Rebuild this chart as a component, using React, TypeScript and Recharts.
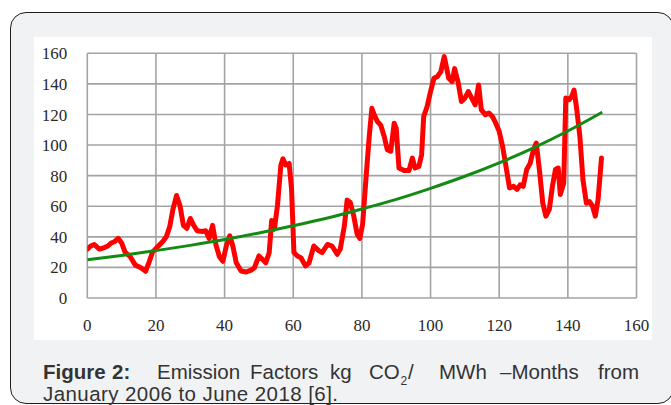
import React from "react";
import { LineChart, Line, XAxis, YAxis, CartesianGrid } from "recharts";

const redMonths = [
  0, 1, 2, 3.5, 5, 6, 7, 8, 9, 10, 11, 12.5, 14, 15.5, 17, 18, 19, 20.5, 22, 23,
  24, 25, 26, 27, 28, 29, 30, 31, 32, 33.5, 34.5, 35.5, 36.5, 37.5, 38.5, 39.5,
  40.5, 41.5, 42.4, 43.4, 44.8, 46.3, 47.7, 48.7, 50, 51, 52, 53, 53.7, 54.5,
  55.4, 56.4, 57, 57.8, 58.8, 59.5, 60.2, 61.2, 62.2, 63.6, 64.6, 66, 67.5, 68.4,
  70, 71.3, 72.8, 73.7, 74.9, 75.7, 76.6, 77.6, 78.6, 79.4, 80.2, 81.2, 82.1,
  82.9, 83.6, 84.5, 85.5, 86.5, 87.4, 88.4, 89.4, 90, 90.8, 92.3, 93.7, 94.7,
  95.5, 96.6, 97.4, 98, 99, 100, 101, 102, 103, 104, 104.5, 105.3, 106.3, 107,
  108, 109, 110, 111, 112, 113, 114, 114.8, 116, 117, 118, 119, 120, 121, 122.3,
  123, 124.2, 125.2, 126.1, 127, 128, 129, 130, 130.8, 131.7, 132.7, 133.6,
  134.6, 135.5, 136.4, 137.2, 137.8, 138.8, 139.4, 140.4, 141.1, 141.8, 142.5,
  143.5, 144.4, 145.4, 146.3, 147.2, 148, 148.8, 149.8,
];
const redValues = [
  32, 34, 35, 32, 33, 34, 36, 37, 39, 36, 30, 27, 21.5, 20, 17.5, 23.5, 30, 33.5,
  37, 40, 46.5, 58.5, 67, 60.5, 47.5, 45.5, 52, 47.5, 44, 43.5, 44, 39, 47.5,
  34.5, 27, 24, 34, 40.7, 34, 23, 17.6, 17, 18.2, 19.8, 27.5, 25.3, 23, 29.7,
  50.6, 45, 60.5, 87, 91, 87, 88, 71.5, 29.7, 27.5, 26.4, 21, 23, 34, 30.8, 29.7,
  35, 34, 28.6, 32, 47.3, 64, 62.6, 53.9, 41.8, 39, 48, 78.5, 104.6, 124, 119.8,
  115.4, 113, 105.6, 97, 96, 114.3, 111, 85, 83.3, 83.3, 91.5, 85, 86, 93.7,
  118.7, 125.2, 135, 143.7, 144.8, 148, 157.8, 152.4, 143.7, 141.5, 150, 141.5,
  128.5, 130.7, 135, 130.7, 126.3, 139.3, 123, 119.8, 121, 118.7, 114.3, 109, 99,
  81.7, 72, 73, 71, 74, 73, 84, 88, 97, 101.3, 84, 62, 53.5, 58, 73, 84, 85, 67.6,
  75.2, 130.7, 129.6, 131.7, 136, 125, 105.7, 77.4, 62, 63, 60, 53.5, 64.3, 91.5,
];

const trendMonths = [0, 10, 20, 30, 40, 50, 60, 70, 80, 90, 100, 110, 120, 130, 140, 150];
const trendValues = [25, 27.8, 31, 34.4, 38.2, 42.5, 47.2, 52.3, 58.2, 64.5, 71.7, 79.6, 88.4, 98.2, 109.2, 121.5];

const xTicks = [0, 20, 40, 60, 80, 100, 120, 140, 160];
const yTicks = [0, 20, 40, 60, 80, 100, 120, 140, 160];

const redData = redMonths.map((m, i) => ({ month: m, value: redValues[i] }));
const trendData = trendMonths.map((m, i) => ({ month: m, value: trendValues[i] }));

const capFont = "'Liberation Sans', Arial, sans-serif";
const tickFont = "'Liberation Serif', 'Times New Roman', serif";

export default function App() {
  return (
    <div
      style={{
        position: "fixed",
        left: 0,
        top: 0,
        width: 671,
        height: 405,
        background: "#ffffff",
        overflow: "hidden",
      }}
    >
      <div
        style={{
          position: "absolute",
          left: 10,
          top: 12,
          width: 664,
          height: 392,
          border: "1.5px solid #1e1e1e",
          borderRadius: 16,
          background: "#f1f2f4",
          boxSizing: "border-box",
        }}
      />
      <div
        style={{
          position: "absolute",
          left: 34,
          top: 37,
          width: 618,
          height: 303,
          background: "#ffffff",
        }}
      />
      <div style={{ position: "absolute", left: 0, top: 0 }}>
        <LineChart
          width={671}
          height={405}
          margin={{ top: 53.3, right: 34.5, bottom: 77, left: 37.3 }}
        >
          <CartesianGrid stroke="#a3a3a3" strokeWidth={1.6} horizontal vertical />
          <XAxis
            type="number"
            dataKey="month"
            domain={[0, 160]}
            ticks={xTicks}
            allowDataOverflow
            axisLine={false}
            tickLine={false}
            tickSize={0}
            tickMargin={21}
            height={30}
            interval={0}
            tick={{ fill: "#2a2a2a", fontSize: 17, fontFamily: tickFont }}
          />
          <YAxis
            type="number"
            dataKey="value"
            domain={[0, 160]}
            ticks={yTicks}
            allowDataOverflow
            axisLine={false}
            tickLine={false}
            tickSize={0}
            tickMargin={20}
            width={50}
            interval={0}
            tick={{ fill: "#2a2a2a", fontSize: 17, fontFamily: tickFont }}
          />
          <Line
            data={redData}
            dataKey="value"
            type="linear"
            stroke="#ff0000"
            strokeWidth={5}
            strokeLinejoin="round"
            strokeLinecap="round"
            dot={false}
            activeDot={false}
            isAnimationActive={false}
          />
          <Line
            data={trendData}
            dataKey="value"
            type="monotone"
            stroke="#138a13"
            strokeWidth={3}
            dot={false}
            activeDot={false}
            isAnimationActive={false}
          />
        </LineChart>
      </div>
      <svg
        width={671}
        height={405}
        style={{ position: "absolute", left: 0, top: 0, pointerEvents: "none" }}
      >
        <g fill="#333333" fontFamily={capFont} fontSize={20.5}>
          <text x={43} y={379} fontWeight="bold">Figure</text>
          <text x={112} y={379} fontWeight="bold">2:</text>
          <text x={157} y={379}>Emission</text>
          <text x={250} y={379}>Factors</text>
          <text x={330} y={379}>kg</text>
          <text x={369} y={379}>CO</text>
          <text x={400.5} y={385} fontSize={12}>2</text>
          <text x={408} y={379}>/</text>
          <text x={439} y={379}>MWh</text>
          <text x={500} y={379}>–Months</text>
          <text x={598} y={379}>from</text>
          <text x={43} y={401} textLength={295} lengthAdjust="spacing">
            January 2006 to June 2018 [6].
          </text>
        </g>
      </svg>
    </div>
  );
}
